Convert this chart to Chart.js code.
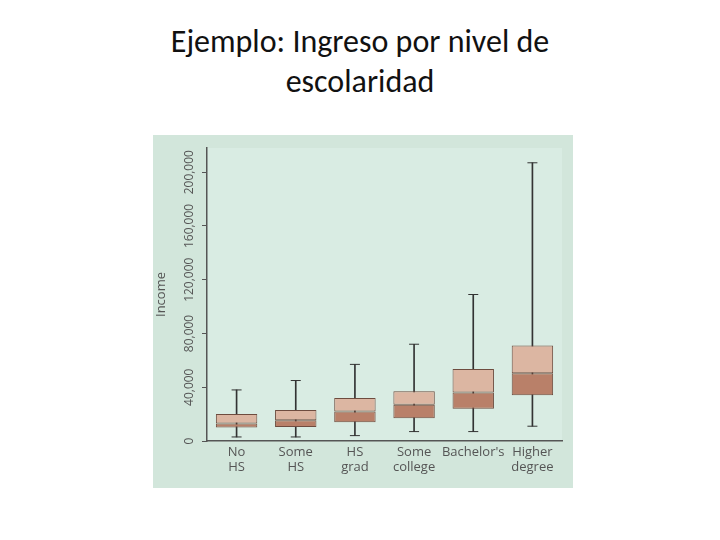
<!DOCTYPE html>
<html><head><meta charset="utf-8">
<script src="https://cdn.jsdelivr.net/npm/chart.js@4"></script>
<style>
body{margin:0;width:720px;height:540px;background:#fff;position:relative;overflow:hidden}
#t{position:absolute;top:22px;left:0;width:720px;text-align:center;font-family:Carlito,"Liberation Sans",sans-serif;font-size:32px;line-height:40px;color:#111}
#w{position:absolute;left:153px;top:135px;width:420px;height:353px;background:#d2e6db}
</style></head><body>
<div id="t">Ejemplo: Ingreso por nivel de<br>escolaridad</div>
<div id="w"><canvas id="c" width="420" height="353"></canvas></div>
<script>
const categories=[["No","HS"],["Some","HS"],["HS","grad"],["Some","college"],["Bachelor's",""],["Higher","degree"]];
const mins=[3000,3000,4000,7000,7000,11000];
const q1=[10000,10500,14000,17000,24000,34000];
const medians=[13000,15500,22000,27000,36000,50500];
const q3=[20000,23000,32000,37000,53500,71000];
const maxs=[38000,45000,57000,72000,109000,207000];
const yTicks=[0,40000,80000,120000,160000,200000];
const fmt=v=>v.toLocaleString('en-US');
const bgPlugin={id:'bg',beforeDraw(ch){const a=ch.chartArea,c=ch.ctx;c.save();c.fillStyle='#d9ece3';c.fillRect(a.left,a.top,a.right-a.left,a.bottom-a.top);c.restore();},
afterDraw(ch){const y=ch.scales.y,c=ch.ctx;c.save();c.fillStyle='#555';c.font='12px "Open Sans",sans-serif';c.textAlign='center';c.textBaseline='middle';
yTicks.forEach(v=>{c.save();c.translate(37,y.getPixelForValue(v));c.rotate(-Math.PI/2);c.fillText(fmt(v),0,0);c.restore();});c.restore();}};
new Chart(document.getElementById('c'),{
data:{labels:categories,datasets:[
{type:'bar',data:mins.map((m,i)=>[m,maxs[i]]),backgroundColor:'#333',barThickness:1,grouped:false,order:3},
{type:'bar',data:q1.map((m,i)=>[m,medians[i]]),backgroundColor:'#b98069',borderColor:'#6e4c3f',borderWidth:1,borderSkipped:false,barPercentage:0.7,categoryPercentage:1,grouped:false,order:2},
{type:'bar',data:medians.map((m,i)=>[m,q3[i]]),backgroundColor:'#dcb6a2',borderColor:'#6e4c3f',borderWidth:1,borderSkipped:false,barPercentage:0.7,categoryPercentage:1,grouped:false,order:1},
{type:'line',data:mins,showLine:false,pointStyle:'line',pointRadius:5,borderColor:'#333',borderWidth:1,order:0},
{type:'line',data:maxs,showLine:false,pointStyle:'line',pointRadius:5,borderColor:'#333',borderWidth:1,order:0}
]},
options:{responsive:false,animation:false,layout:{padding:{top:13,right:11,left:0,bottom:0}},
plugins:{legend:{display:false},tooltip:{enabled:false}},
scales:{
x:{offset:true,afterFit:s=>{s.height=47;},grid:{display:false,drawTicks:false},border:{color:'#555',width:1.5},ticks:{autoSkip:false,color:'#555',font:{size:13,family:'"Open Sans",sans-serif'},padding:3,maxRotation:0,minRotation:0}},
y:{min:0,max:218000,afterBuildTicks:s=>{s.ticks=yTicks.map(v=>({value:v}));},afterFit:s=>{s.width=54;},
grid:{drawOnChartArea:false,tickLength:5,color:'#555'},border:{color:'#555',width:1.5},
ticks:{callback:()=>''},title:{display:true,text:'Income',color:'#555',font:{size:13,family:'"Open Sans",sans-serif'},padding:0}}
}},plugins:[bgPlugin]});
</script></body></html>
